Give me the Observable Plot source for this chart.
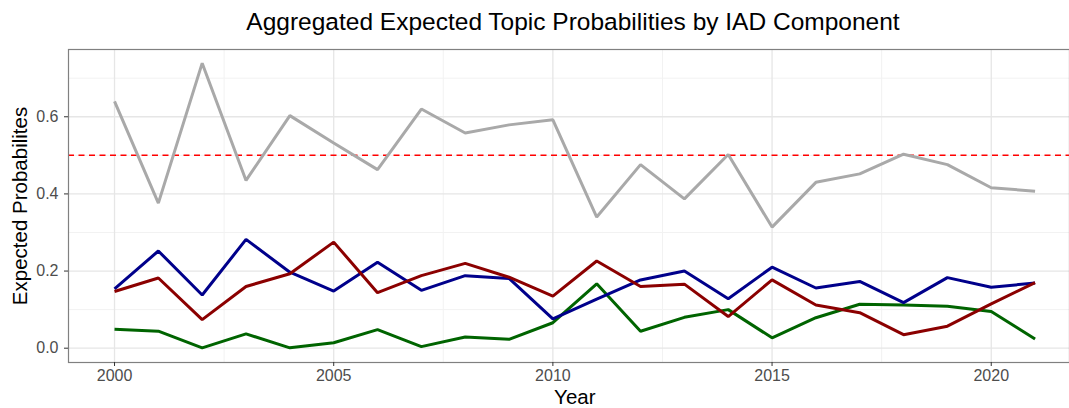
<!DOCTYPE html>
<html>
<head>
<meta charset="utf-8">
<script src="https://cdn.jsdelivr.net/npm/d3@7"></script>
<script src="https://cdn.jsdelivr.net/npm/@observablehq/plot@0.6"></script>
<style>
  html, body { margin: 0; padding: 0; background: #fff; }
  body { width: 1069px; height: 408px; overflow: hidden; font-family: "Liberation Sans", Arial, sans-serif; }
  #title { height: 44px; box-sizing: border-box; padding-left: 77px; text-align: center; font-size: 24.5px; line-height: 24.5px; padding-top: 10px; color: #000; white-space: nowrap; }
  #chart svg { display: block; }
</style>
</head>
<body>
<div id="title">Aggregated Expected Topic Probabilities by IAD Component</div>
<div id="chart"></div>
<script>
const years = [2000,2001,2002,2003,2004,2005,2006,2007,2008,2009,2010,2011,2012,2013,2014,2015,2016,2017,2018,2019,2020,2021];
const seriesGray  = [0.640,0.376,0.739,0.435,0.603,0.532,0.463,0.620,0.558,0.579,0.592,0.340,0.476,0.387,0.502,0.314,0.430,0.452,0.503,0.476,0.416,0.407];
const seriesGreen = [0.049,0.044,0.001,0.037,0.001,0.014,0.048,0.004,0.029,0.023,0.066,0.167,0.044,0.080,0.100,0.027,0.079,0.114,0.112,0.109,0.095,0.024];
const seriesBlue  = [0.154,0.252,0.138,0.282,0.197,0.148,0.223,0.150,0.188,0.181,0.076,0.127,0.177,0.200,0.128,0.210,0.156,0.173,0.118,0.183,0.158,0.169];
const seriesRed   = [0.147,0.182,0.074,0.160,0.193,0.275,0.144,0.188,0.220,0.184,0.135,0.226,0.160,0.166,0.082,0.177,0.112,0.092,0.035,0.057,0.115,0.170];
const threshold = [0.5];
const xTicks = [2000, 2005, 2010, 2015, 2020];
const xMinor = [2002.5, 2007.5, 2012.5, 2017.5];
const yTicks = [0, 0.2, 0.4, 0.6];
const yMinor = [0.1, 0.3, 0.5, 0.7];

const seriesList = [
  {name: "S1", values: seriesGray, color: "#A9A9A9"},
  {name: "S2", values: seriesGreen, color: "#006400"},
  {name: "S3", values: seriesBlue, color: "#00008B"},
  {name: "S4", values: seriesRed, color: "#8B0000"}
];
const rows = seriesList.flatMap(s => years.map((yr, i) => ({year: yr, value: s.values[i], series: s.name})));

const xDomain = [1998.95, 2022.05];
const yDomain = [-0.0371, 0.7744];

const font = "Liberation Sans, Arial, sans-serif";
const chart = Plot.plot({
  width: 1069,
  height: 364,
  marginTop: 5,
  marginBottom: 46,
  marginLeft: 68,
  marginRight: 0,
  style: {fontFamily: font, background: "#fff", overflow: "visible"},
  x: {domain: xDomain, range: [68, 1080.6]},
  y: {domain: yDomain},
  color: {domain: seriesList.map(s => s.name), range: seriesList.map(s => s.color)},
  marks: [
    Plot.gridX(xMinor, {stroke: "#f2f2f2", strokeOpacity: 1, strokeWidth: 1}),
    Plot.gridY(yMinor, {stroke: "#f2f2f2", strokeOpacity: 1, strokeWidth: 1}),
    Plot.gridX(xTicks, {stroke: "#e6e6e6", strokeOpacity: 1, strokeWidth: 1.3}),
    Plot.gridY(yTicks, {stroke: "#e6e6e6", strokeOpacity: 1, strokeWidth: 1.3}),
    Plot.ruleY(threshold, {stroke: "#ff0000", strokeWidth: 1.5, strokeDasharray: "6,4.5"}),
    Plot.line(rows, {x: "year", y: "value", z: "series", stroke: "series", strokeWidth: 3, strokeLinejoin: "miter", strokeLinecap: "butt"}),
    Plot.frame({stroke: "#808080", strokeWidth: 1.2}),
    Plot.axisX(xTicks, {tickSize: 4, tickPadding: 3, fontSize: 16, color: "#4d4d4d", tickFormat: d => String(d), label: null, stroke: "#333"}),
    Plot.axisY(yTicks, {tickSize: 4, tickPadding: 6, fontSize: 16, color: "#4d4d4d", tickFormat: d3.format(".1f"), label: null, stroke: "#333"}),
    Plot.text(["Year"], {x: () => (xDomain[0] + xDomain[1]) / 2, frameAnchor: "bottom", dy: 35.2, fontSize: 20.5, fill: "#000", textAnchor: "middle", lineAnchor: "middle"}),
    Plot.text(["Expected Probabilites"], {frameAnchor: "left", dx: -48, rotate: -90, fontSize: 20.5, fill: "#000", textAnchor: "middle", lineAnchor: "middle"})
  ]
});
document.getElementById("chart").appendChild(chart);
</script>
</body>
</html>
